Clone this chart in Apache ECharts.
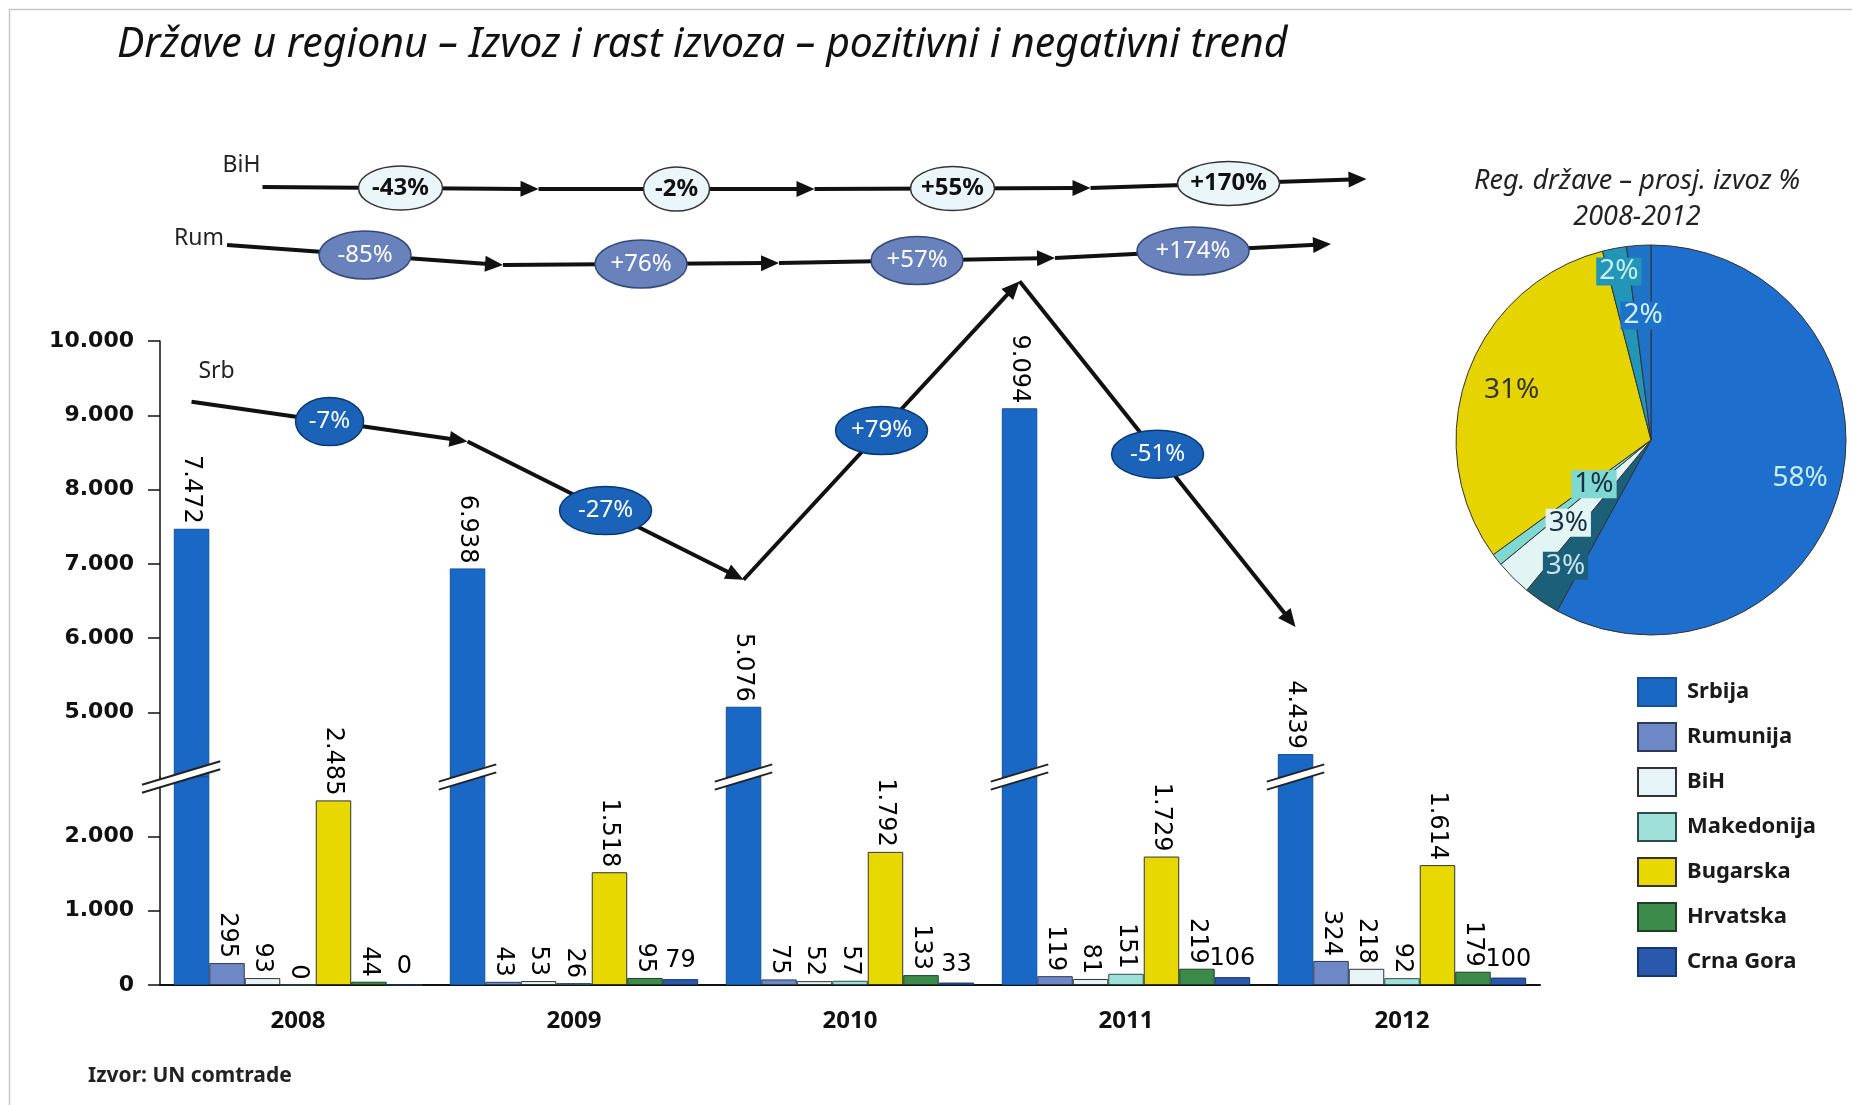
<!DOCTYPE html>
<html>
<head>
<meta charset="utf-8">
<script src="https://cdn.jsdelivr.net/npm/echarts@6/dist/echarts.min.js"></script>
<style>
html, body { margin: 0; padding: 0; background: #fff; }
#main { width: 1852px; height: 1105px; }
</style>
</head>
<body>
<div id="main"></div>
<script>
// podaci - izvoz (mil.)
var years = ['2008', '2009', '2010', '2011', '2012'];
var srbija = [7472, 6938, 5076, 9094, 4439];
var rumunija = [295, 43, 75, 119, 324];
var bih = [93, 53, 52, 81, 218];
var makedonija = [0, 26, 57, 151, 92];
var bugarska = [2485, 1518, 1792, 1729, 1614];
var hrvatska = [44, 95, 133, 219, 179];
var crnaGora = [0, 79, 33, 106, 100];

var upperTicks = [5000, 6000, 7000, 8000, 9000, 10000];
var lowerTicks = [0, 1000, 2000];

// rast izvoza po godinama
var srbGrowth = ['-7%', '-27%', '+79%', '-51%'];
var rumGrowth = ['-85%', '+76%', '+57%', '+174%'];
var bihGrowth = ['-43%', '-2%', '+55%', '+170%'];

// pita - prosjecni izvoz %
var pieNames = ['Srbija', 'Hrvatska', 'BiH', 'Makedonija', 'Bugarska', 'Crna Gora', 'Rumunija'];
var pieValues = [58, 3, 3, 1, 31, 2, 2];

// stil
var countries = ['Srbija', 'Rumunija', 'BiH', 'Makedonija', 'Bugarska', 'Hrvatska', 'Crna Gora'];
var values = [srbija, rumunija, bih, makedonija, bugarska, hrvatska, crnaGora];
var colors = ['#1a68c6', '#6e88c6', '#e6f4f8', '#9fe0d8', '#e6d800', '#3d8b4a', '#2a58ad'];
var borders = ['#164f92', '#2c3a5c', '#333333', '#2d4d4a', '#333333', '#1f3f24', '#1a356a'];
var pieColors = ['#1d6ecd', '#1c5f79', '#e2f4f4', '#7fd8d2', '#e6d400', '#2196b6', '#1e73c8'];
var pieLabelColors = ['#c4eef2', '#c4e4f0', '#1a3040', '#1a3040', '#333333', '#c4eef2', '#d0f0f8'];
var pieLabelR = [0.79, 0.78, 0.6, 0.37, 0.76, 0.88, 0.64];
var pieCenter = [1651, 440], pieRadius = 195;

function fmt(v) { return String(v).replace(/\B(?=(\d{3})+(?!\d))/g, '.'); }

var chart = echarts.init(document.getElementById('main'));

var rotLabel = {
    show: true, position: 'top', distance: 5, rotate: -90, align: 'right', verticalAlign: 'middle',
    fontFamily: 'DejaVu Sans', fontSize: 24, color: '#000',
    formatter: function (p) { return fmt(p.value); }
};
var flatLabel = {
    show: true, position: 'top', distance: 6,
    fontFamily: 'DejaVu Sans', fontSize: 24, color: '#000',
    formatter: function (p) { return fmt(p.value); }
};

var seriesList = [];
// gornji dio (iznad prekida) - samo Srbija, ostale serije prazne radi rasporeda stubaca
countries.forEach(function (name, c) {
    seriesList.push({
        type: 'bar', name: name, xAxisIndex: 0, yAxisIndex: 0,
        data: c === 0 ? srbija : [],
        barGap: '0%', barCategoryGap: '10%',
        itemStyle: { color: colors[c], borderColor: borders[c], borderWidth: 1 },
        label: c === 0 ? rotLabel : { show: false },
        emphasis: { disabled: true }
    });
});
// donji dio
countries.forEach(function (name, c) {
    seriesList.push({
        type: 'bar', name: name, xAxisIndex: 1, yAxisIndex: 1,
        data: values[c],
        barGap: '0%', barCategoryGap: '10%',
        itemStyle: { color: colors[c], borderColor: borders[c], borderWidth: 1 },
        label: c === 0 ? { show: false } : (c === 6 ? flatLabel : rotLabel),
        emphasis: { disabled: true }
    });
});
seriesList.push({
    type: 'pie', name: 'prosj', center: pieCenter, radius: pieRadius, startAngle: 90, clockwise: true,
    data: pieNames.map(function (n, i) { return { name: n, value: pieValues[i], itemStyle: { color: pieColors[i] } }; }),
    label: { show: false }, labelLine: { show: false },
    itemStyle: { borderColor: '#333', borderWidth: 1 },
    emphasis: { disabled: true }, silent: true
});

var axisY = {
    type: 'value', splitLine: { show: false },
    axisLine: { show: true, lineStyle: { color: '#111', width: 1.5 } },
    axisLabel: { formatter: fmt, margin: 26, fontFamily: 'DejaVu Sans', fontWeight: 'bold', fontSize: 22, color: '#111' }
};

var option = {
    animation: false,
    backgroundColor: '#fff',
    title: {
        text: 'Države u regionu – Izvoz i rast izvoza – pozitivni i negativni trend',
        left: 112, top: 20,
        textStyle: { fontFamily: 'Noto Sans', fontStyle: 'italic', fontWeight: 'normal', fontSize: 41, color: '#111' }
    },
    legend: {
        data: countries, orient: 'vertical', left: 1632, top: 672,
        icon: 'rect', itemWidth: 38, itemHeight: 28, itemGap: 15,
        textStyle: { fontFamily: 'Noto Sans', fontWeight: 'bold', fontSize: 22, color: '#1a1a1a', padding: [0, 0, 0, 6] }
    },
    grid: [
        { left: 160, width: 1380, top: 341, height: 436 },
        { left: 160, width: 1380, top: 777, height: 208 }
    ],
    xAxis: [
        { type: 'category', gridIndex: 0, data: years, show: false },
        {
            type: 'category', gridIndex: 1, data: years,
            axisLine: { lineStyle: { color: '#111', width: 2 } }, axisTick: { show: false },
            axisLabel: { margin: 24, fontFamily: 'Noto Sans', fontWeight: 'bold', fontSize: 24, color: '#111' }
        }
    ],
    yAxis: [
        echarts.util.merge({
            gridIndex: 0, min: 4130, max: 10000,
            axisTick: { show: true, length: 12, customValues: upperTicks, lineStyle: { color: '#111', width: 1.5 } },
            axisLabel: { customValues: upperTicks }
        }, axisY),
        echarts.util.merge({
            gridIndex: 1, min: 0, max: 2800,
            axisTick: { show: true, length: 12, customValues: lowerTicks, lineStyle: { color: '#111', width: 1.5 } },
            axisLabel: { customValues: lowerTicks }
        }, axisY)
    ],
    series: seriesList
};

chart.setOption(option);

// ukrasi: strelice, elipse, prekid ose, oznake pite
var model = chart.getModel();
function barLay(si, i) { return model.getSeriesByIndex(si).getData().getItemLayout(i); }
function barCx(si, i) { var l = barLay(si, i); return l.x + l.width / 2; }
function barTop(si, i) { var l = barLay(si, i); return Math.min(l.y, l.y + l.height); }

var g = [];
g.push({ type: 'rect', shape: { x: 9.5, y: 9.5, width: 1900, height: 1200 }, style: { fill: null, stroke: '#c8c8c8', lineWidth: 1.5 }, z: 0 });

function drawArrow(pts) {
    for (var k = 1; k < pts.length; k++) {
        var a = pts[k - 1], b = pts[k];
        var dx = b[0] - a[0], dy = b[1] - a[1], len = Math.sqrt(dx * dx + dy * dy);
        var ux = dx / len, uy = dy / len, L = 18, W = 8;
        var bx = b[0] - ux * L, by = b[1] - uy * L;
        g.push({ type: 'line', shape: { x1: a[0], y1: a[1], x2: bx + ux * 3, y2: by + uy * 3 }, style: { stroke: '#111', lineWidth: 4 }, z: 50 });
        g.push({ type: 'polygon', shape: { points: [[b[0], b[1]], [bx - uy * W, by + ux * W], [bx + uy * W, by - ux * W]] }, style: { fill: '#111' }, z: 50 });
    }
}
function badges(pts, labels, fill, stroke, txt, bold, rxf, ry) {
    for (var k = 0; k < labels.length; k++) {
        var mx = (pts[k][0] + pts[k + 1][0]) / 2, my = (pts[k][1] + pts[k + 1][1]) / 2;
        g.push({ type: 'ellipse', shape: { cx: mx, cy: my, rx: rxf(labels[k].length), ry: ry }, style: { fill: fill, stroke: stroke, lineWidth: 1.5 }, z: 60 });
        g.push({
            type: 'text', x: mx, y: my, z: 61,
            style: { text: labels[k], fill: txt, font: (bold ? 'bold ' : '') + '24px "Noto Sans"', textAlign: 'center', textVerticalAlign: 'middle' }
        });
    }
}
function nameText(x, y, t, align) {
    g.push({ type: 'text', x: x, y: y, z: 61, style: { text: t, fill: '#222', font: '23px "Noto Sans"', textAlign: align, textVerticalAlign: 'middle' } });
}

var bihY = [187, 189, 189, 188, 179];
var rumY = [245, 265, 263, 258, 244];
var bihPts = [], rumPts = [], srbPts = [];
for (var i = 0; i < years.length; i++) {
    bihPts.push([barCx(9, i), bihY[i]]);
    rumPts.push([barCx(8, i), rumY[i]]);
    srbPts.push([barCx(0, i), barTop(0, i) - 127]);
}
drawArrow(bihPts); drawArrow(rumPts); drawArrow(srbPts);
badges(bihPts, bihGrowth, '#eaf6fa', '#333', '#111', true, function (n) { return 9 * n + 6; }, 22);
badges(rumPts, rumGrowth, '#6a82bc', '#34497a', '#fff', false, function (n) { return 10 * n + 6; }, 24);
badges(srbPts, srbGrowth, '#1b63b8', '#0b3870', '#fff', false, function (n) { return 12 * n - 2; }, 24);
nameText(bihPts[0][0] - 2, bihPts[0][1] - 22, 'BiH', 'right');
nameText(rumPts[0][0] - 3, rumPts[0][1] - 7, 'Rum', 'right');
nameText(srbPts[0][0] + 25, srbPts[0][1] - 30, 'Srb', 'center');

// prekid ose
for (var j = 0; j < years.length; j++) {
    var l = barLay(7, j);
    var cy = chart.convertToPixel({ xAxisIndex: 1, yAxisIndex: 1 }, [j, 2800])[1];
    var x0 = j === 0 ? 160 - 18 : l.x - 11, x1 = l.x + l.width + 11, xm = (x0 + x1) / 2, s = 0.3, h = 4;
    var yl = cy + s * (xm - x0), yr = cy - s * (x1 - xm);
    g.push({ type: 'polygon', shape: { points: [[x0, yl - h], [x1, yr - h], [x1, yr + h], [x0, yl + h]] }, style: { fill: '#fff' }, z: 70 });
    g.push({ type: 'line', shape: { x1: x0, y1: yl - h, x2: x1, y2: yr - h }, style: { stroke: '#222', lineWidth: 2 }, z: 71 });
    g.push({ type: 'line', shape: { x1: x0, y1: yl + h, x2: x1, y2: yr + h }, style: { stroke: '#222', lineWidth: 2 }, z: 71 });
}

// oznake na piti
var total = pieValues.reduce(function (a, b) { return a + b; }, 0);
var ang = -Math.PI / 2;
for (var p = 0; p < pieValues.length; p++) {
    var span = pieValues[p] / total * Math.PI * 2, mid = ang + span / 2;
    ang += span;
    g.push({
        type: 'text', z: 62,
        x: pieCenter[0] + Math.cos(mid) * pieRadius * pieLabelR[p],
        y: pieCenter[1] + Math.sin(mid) * pieRadius * pieLabelR[p],
        style: {
            text: pieValues[p] + '%', fill: pieLabelColors[p], font: '28px "Noto Sans"',
            textAlign: 'center', textVerticalAlign: 'middle',
            backgroundColor: pieColors[p], padding: [0, 3]
        }
    });
}

g.push({ type: 'text', x: 1637, y: 181, z: 61, style: { text: 'Reg. države – prosj. izvoz %', fill: '#222', font: 'italic 27px "Noto Sans"', textAlign: 'center', textVerticalAlign: 'middle' } });
g.push({ type: 'text', x: 1637, y: 217, z: 61, style: { text: '2008-2012', fill: '#222', font: 'italic 27px "Noto Sans"', textAlign: 'center', textVerticalAlign: 'middle' } });
g.push({ type: 'text', x: 88, y: 1076, z: 61, style: { text: 'Izvor: UN comtrade', fill: '#222', font: 'bold 21px "Noto Sans"', textVerticalAlign: 'middle' } });

chart.setOption({ graphic: g });
</script>
</body>
</html>
